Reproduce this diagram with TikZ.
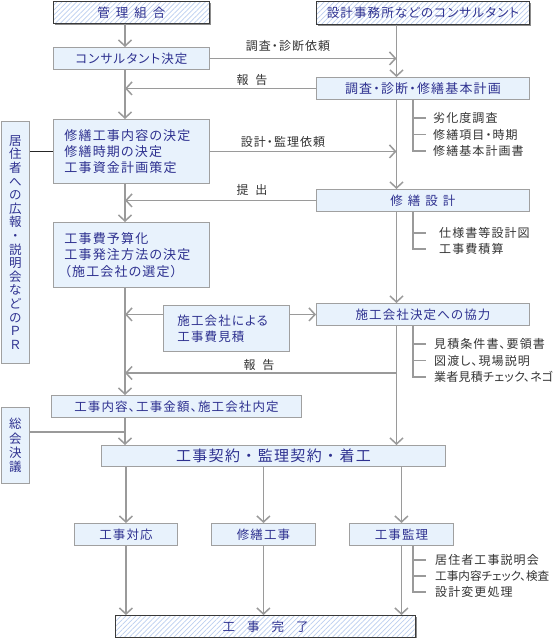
\documentclass[tikz,border=0pt]{standalone}
\usepackage{fontspec}
\setmainfont{Noto Sans CJK JP}[LetterSpace=9, RawFeature={+palt}]
\newfontfamily\jpfull{Noto Sans CJK JP}[LetterSpace=9]
\newfontfamily\jpnarrow{Noto Sans CJK JP}[LetterSpace=2, RawFeature={+palt}]
\newfontfamily\jptight{Noto Sans CJK JP}[LetterSpace=0, RawFeature={+palt}]
\usetikzlibrary{arrows.meta,patterns.meta}
\definecolor{boxfill}{HTML}{E8F2FC}
\definecolor{boxdraw}{HTML}{A0A0A0}
\definecolor{navy}{HTML}{2E3190}
\definecolor{linegray}{HTML}{9A9A9A}
\definecolor{hatchc}{HTML}{BCCFF0}
\definecolor{txt}{HTML}{333333}
\definecolor{darkb}{HTML}{3A3A3A}
\tikzset{
  box/.style={draw=boxdraw, fill=boxfill, line width=0.9pt, text=navy, inner sep=0pt, anchor=north west, font=\fontsize{12.5}{16}\selectfont},
  hbox/.style={draw=darkb, line width=1pt, preaction={fill=white}, pattern={Lines[angle=45,distance=3.5pt,line width=0.7pt]}, pattern color=hatchc, text=navy, inner sep=0pt, anchor=north west, font=\fontsize{12.5}{16}\selectfont},
  conn/.style={draw=linegray, line width=1.5pt},
  arr/.style={conn, -{Straight Barb[length=6pt,width=13pt]}},
  blk/.style={draw=black!85, line width=1.5pt},
  note/.style={text=txt, anchor=west, inner sep=0pt, font=\fontsize{12}{14}\selectfont},
  lbl/.style={text=txt, inner sep=0pt, font=\fontsize{12}{14}\selectfont},
}
\begin{document}
\begin{tikzpicture}[x=1pt,y=-1pt]
\fill[white] (0,0) rectangle (553,638);
\useasboundingbox (0,0) rectangle (553,638);
\coordinate (L) at (125,0);
\coordinate (R) at (396.5,0);
\coordinate (B) at (413,0);
% shadows of hatched boxes
\fill[black!45] (54.5,2.5) rectangle (210.5,24.5);
\fill[black!45] (317.5,2.5) rectangle (530.5,25.5);
\fill[black!45] (116.5,616.5) rectangle (416.5,638.5);
% top boxes
\node[hbox, minimum width=156pt, minimum height=22pt] (kumiai) at (53,1) {管\hspace{6pt}理\hspace{6pt}組\hspace{6pt}合};
\node[hbox, minimum width=213pt, minimum height=23pt] (consul) at (316,1) {設計事務所などのコンサルタント};
\node[box, minimum width=156pt, minimum height=22pt] (kettei) at (53,47) {コンサルタント決定};
\node[box, minimum width=213pt, minimum height=22pt, font=\fontsize{13}{16}\selectfont] (chosa) at (316,77) {調査・診断・修繕基本計画};
\node[box, minimum height=64pt, text width=134pt, inner xsep=11pt, align=left, font=\fontsize{13}{16}\selectfont] (shuzen) at (53,119) {修繕工事内容の決定\\修繕時期の決定\\工事資金計画策定};
\node[box, minimum width=213pt, minimum height=22pt] (sekkei) at (316,189) {修\hspace{5pt}繕\hspace{5pt}設\hspace{5pt}計};
\node[box, minimum height=65pt, text width=134pt, inner xsep=11pt, align=left, font=\fontsize{13}{16.5}\selectfont] (yosan) at (53,222) {工事費予算化\\工事発注方法の決定\\（施工会社の選定）};
\node[box, minimum height=46pt, text width=98pt, inner xsep=14pt, align=left] (mitsu) at (163,305) {施工会社による\\工事費見積};
\node[box, minimum width=213pt, minimum height=22pt] (kyoryoku) at (316,303) {施工会社決定への協力};
\node[box, minimum width=250pt, minimum height=22pt] (naitei) at (51,395) {工事内容、工事金額、施工会社内定};
\node[box, minimum width=344pt, minimum height=21pt, font=\jpfull\fontsize{15}{18}\selectfont] (keiyaku) at (101,445) {工事契約・監理契約・着工};
\node[box, minimum width=103pt, minimum height=22pt] (taio) at (74,523) {工事対応};
\node[box, minimum width=104pt, minimum height=22pt] (koji) at (211,523) {修繕工事};
\node[box, minimum width=104pt, minimum height=22pt] (kanri) at (349,523) {工事監理};
\node[hbox, minimum width=300pt, minimum height=22pt] (kanryo) at (115,615) {工\hspace{12pt}事\hspace{12pt}完\hspace{12pt}了};
% left vertical boxes
\node[box, minimum width=28pt, minimum height=242pt, align=center, font=\jpfull\fontsize{12.5}{13.6}\selectfont] (pr) at (1,121) {居\\住\\者\\へ\\の\\広\\報\\・\\説\\明\\会\\な\\ど\\の\\Ｐ\\Ｒ};
\node[box, minimum width=28pt, minimum height=76pt, align=center, font=\jpfull\fontsize{12.5}{14.3}\selectfont] (sokai) at (1,407) {総\\会\\決\\議};
% notes
\node[note] (c1) at (433,118) {劣化度調査};
\node[note] (c2) at (433,134.5) {修繕項目・時期};
\node[note] (c3) at (433,151) {修繕基本計画書};
\node[note] (s1) at (439,233) {仕様書等設計図};
\node[note] (s2) at (439,249) {工事費積算};
\node[note] (k1) at (434,344) {見積条件書、要領書};
\node[note] (k2) at (434,360.5) {図渡し、現場説明};
\node[note, font=\jpnarrow\fontsize{12}{14}\selectfont] (k3) at (434,377) {業者見積チェック、ネゴ};
\node[note] (m1) at (435,560) {居住者工事説明会};
\node[note, font=\jptight\fontsize{11.6}{14}\selectfont] (m2) at (435,576) {工事内容チェック、検査};
\node[note] (m3) at (435,592) {設計変更処理};
% connector labels
\node[lbl] (l1) at (288,46) {調査・診断依頼};
\node[lbl] (l2) at (252,79.5) {報\hspace{7pt}告};
\node[lbl] (l3) at (283,142) {設計・監理依頼};
\node[lbl] (l4) at (252,190) {提\hspace{7pt}出};
\node[lbl] (l5) at (259,365) {報\hspace{7pt}告};
% coordinates
\coordinate (h2) at (396.5,373);
\coordinate (sk) at (125,432);
% connectors
\draw[arr] (kumiai.south -| L) -- (kettei.north -| L);
\draw[arr] (consul.south -| R) -- (chosa.north -| R);
\draw[arr] (kettei.east) -- (kettei.east -| R);
\draw[arr] (chosa.west) -- (chosa.west -| L);
\draw[arr] (kettei.south -| L) -- (shuzen.north -| L);
\draw[blk] (pr.east |- shuzen.west) -- (shuzen.west);
\draw[arr] (shuzen.east) -- (shuzen.east -| R);
\draw[arr] (chosa.south -| R) -- (sekkei.north -| R);
\draw[arr] (sekkei.west) -- (sekkei.west -| L);
\draw[arr] (shuzen.south -| L) -- (yosan.north -| L);
\draw[arr] (yosan.south -| L) -- (naitei.north -| L);
\draw[arr] (mitsu.west |- kyoryoku.west) -- (L |- kyoryoku.west);
\draw[arr] (mitsu.east |- kyoryoku.west) -- (kyoryoku.west);
\draw[arr] (sekkei.south -| R) -- (kyoryoku.north -| R);
\draw[arr] (h2) -- (L |- h2);
\draw[arr] (kyoryoku.south -| R) -- (keiyaku.north -| R);
\draw[arr] (naitei.south -| L) -- (keiyaku.north -| L);
\draw[conn] (sokai.east |- sk) -- (sk);
\draw[arr] (keiyaku.south -| taio) -- (taio.north);
\draw[arr] (keiyaku.south -| koji) -- (koji.north);
\draw[arr] (keiyaku.south -| kanri) -- (kanri.north);
\draw[arr] (taio.south) -- (kanryo.north -| taio);
\draw[arr] (koji.south) -- (kanryo.north -| koji);
\draw[arr] (kanri.south) -- (kanryo.north -| kanri);
% brackets
\draw[conn] (chosa.south -| B) -- (B |- c3) -- ([xshift=-7pt]c3.west);
\draw[conn] (B |- c1) -- ([xshift=-7pt]c1.west);
\draw[conn] (B |- c2) -- ([xshift=-7pt]c2.west);
\draw[conn] (sekkei.south -| B) -- (B |- s2) -- ([xshift=-13pt]s2.west);
\draw[conn] (B |- s1) -- ([xshift=-13pt]s1.west);
\draw[conn] (kyoryoku.south -| B) -- (B |- k3) -- ([xshift=-8pt]k3.west);
\draw[conn] (B |- k1) -- ([xshift=-8pt]k1.west);
\draw[conn] (B |- k2) -- ([xshift=-8pt]k2.west);
\draw[conn] (kanri.south -| B) -- (B |- m3) -- ([xshift=-9pt]m3.west);
\draw[conn] (B |- m1) -- ([xshift=-9pt]m1.west);
\draw[conn] (B |- m2) -- ([xshift=-9pt]m2.west);
\end{tikzpicture}
\end{document}
